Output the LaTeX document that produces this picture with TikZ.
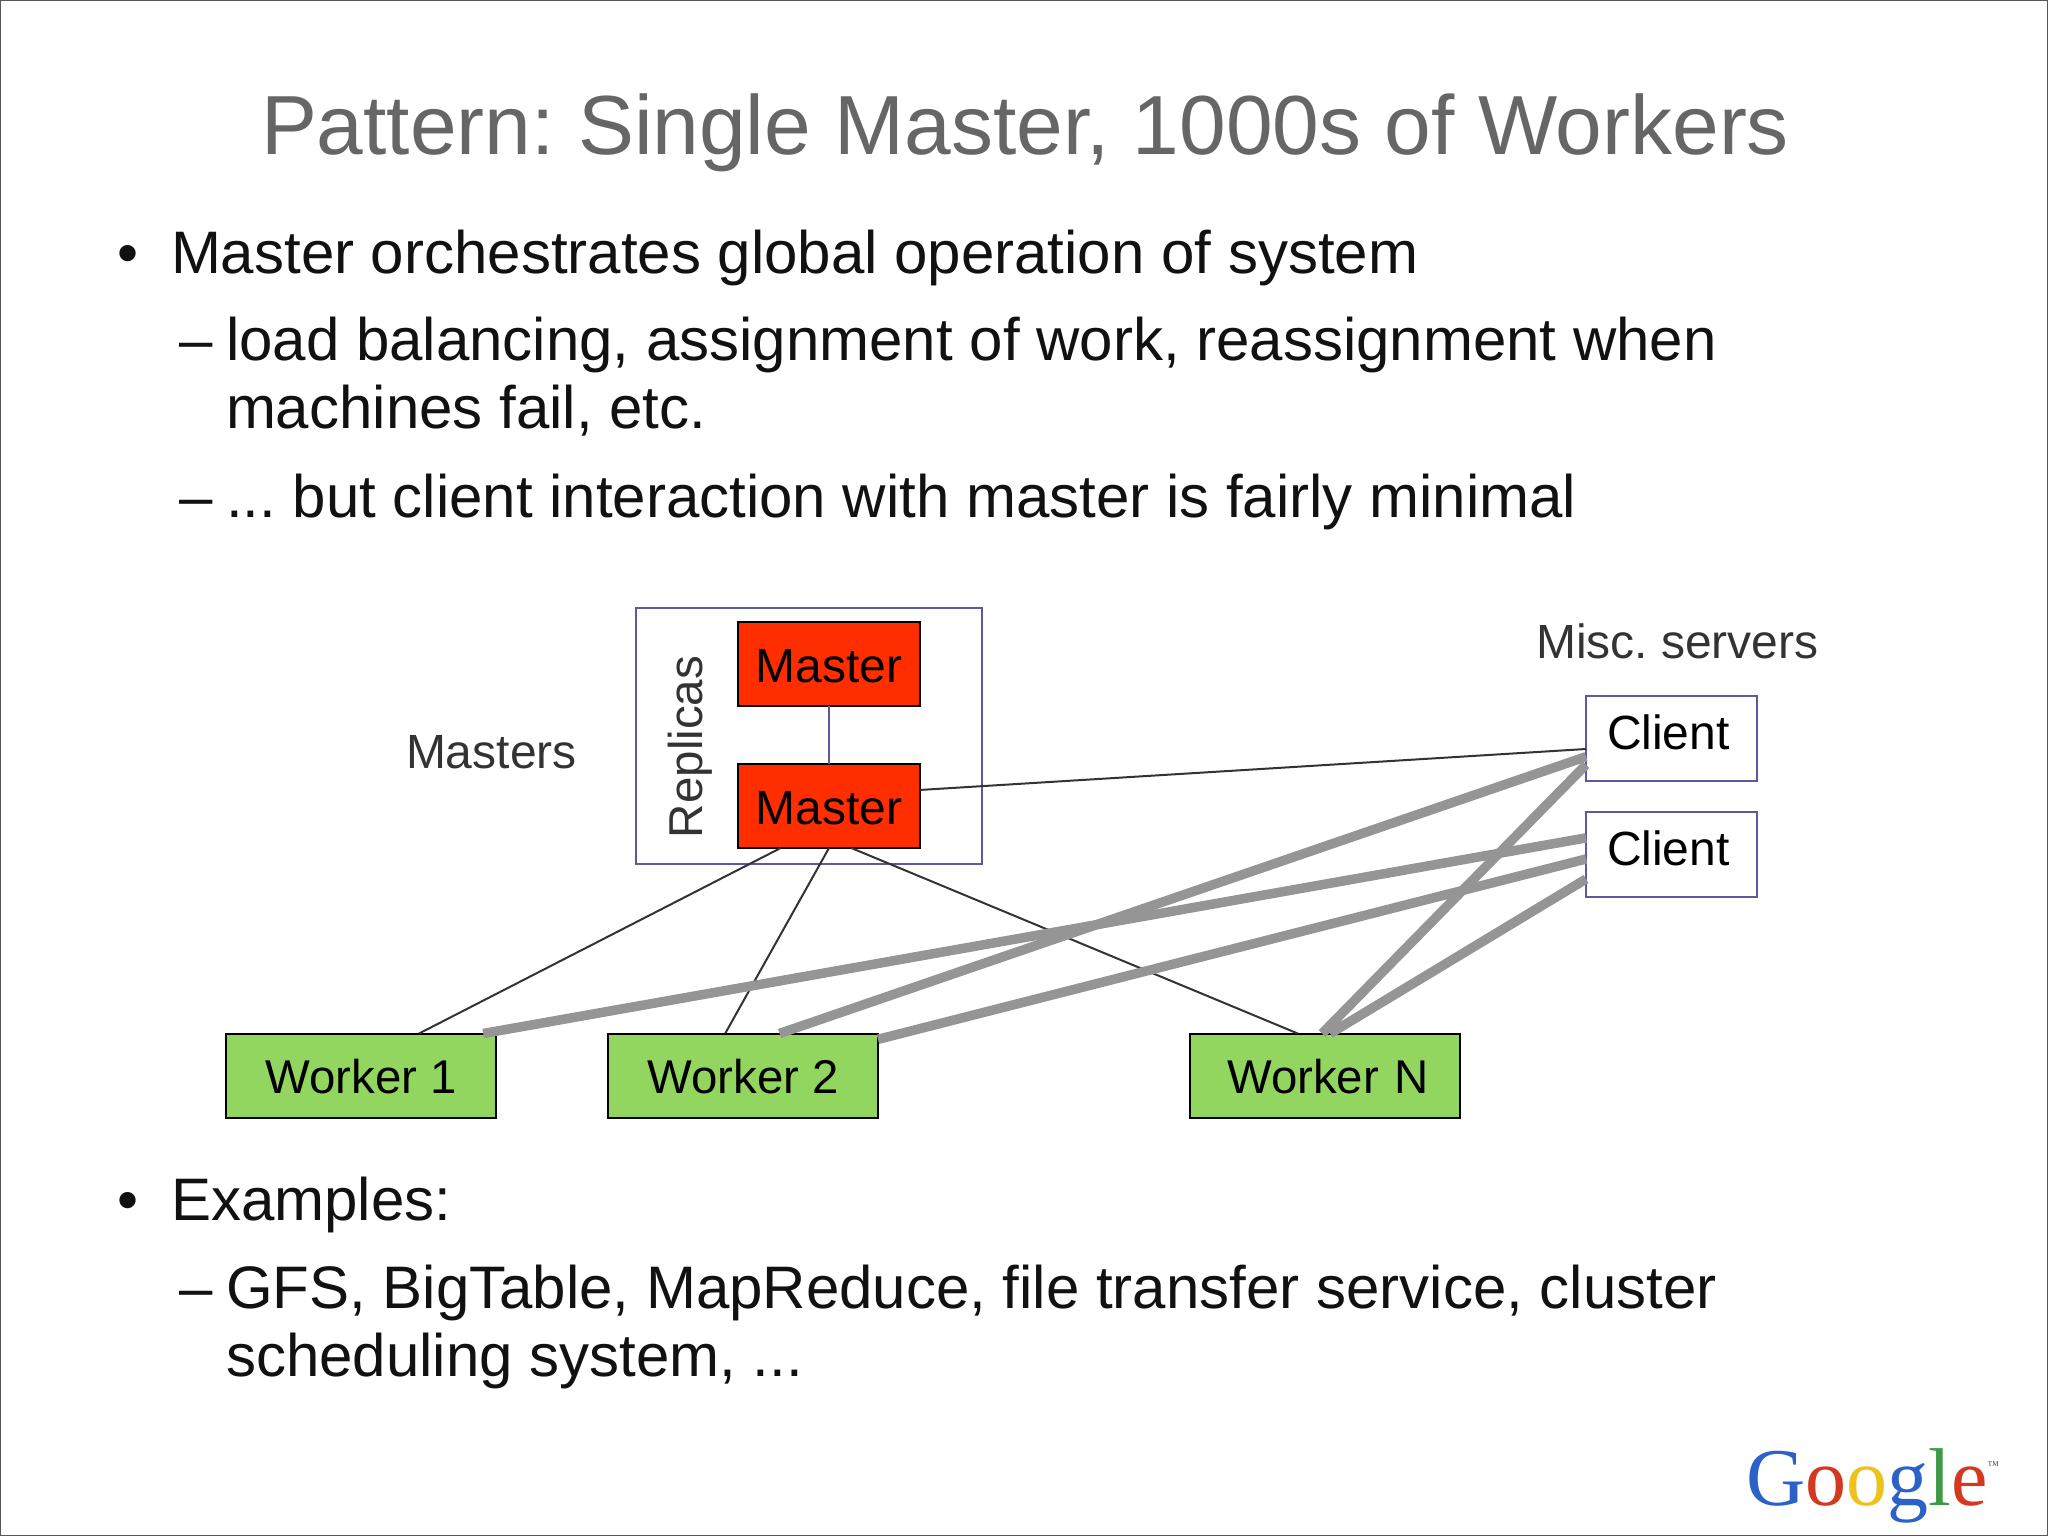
\documentclass[tikz,border=0pt]{standalone}
\usepackage{fontspec}
\setmainfont{Liberation Sans}
\newfontfamily\logofont{Liberation Serif}
\usepackage{tikz}
\usetikzlibrary{positioning}
\frenchspacing
\definecolor{framegray}{HTML}{555555}
\definecolor{titlegray}{HTML}{666666}
\definecolor{labelgray}{HTML}{333333}
\definecolor{bodyblack}{HTML}{111111}
\definecolor{linkgray}{HTML}{959595}
\definecolor{boxblue}{HTML}{5C5A9C}
\definecolor{masterred}{HTML}{FF2E00}
\definecolor{workergreen}{HTML}{92D660}
\definecolor{logoblue}{HTML}{2A62C8}
\definecolor{logored}{HTML}{D2391F}
\definecolor{logoyellow}{HTML}{EDC21B}
\definecolor{logogreen}{HTML}{3E9B45}
\tikzset{
    every node/.style={outer sep=0pt,inner sep=0pt},
    textline/.style={anchor=base west,text=bodyblack},
    titleline/.style={textline,text=titlegray,font=\fontsize{83.9}{84}\selectfont},
    topline/.style={textline,font=\fontsize{60}{60}\selectfont},
    subline/.style={textline,font=\fontsize{60}{60}\selectfont},
    sidelabel/.style={textline,text=labelgray,font=\fontsize{48}{48}\selectfont},
    box/.style={draw,line width=2pt,minimum height=84pt,font=\fontsize{48}{48}\selectfont},
    master/.style={box,fill=masterred,minimum width=182pt,text height=38pt},
    worker/.style={box,fill=workergreen,minimum width=270pt,text height=36pt,font=\fontsize{47.4}{48}\selectfont},
    client/.style={box,draw=boxblue,fill=white,minimum width=171pt,minimum height=85pt,
        text depth=13pt,text width=129pt,align=left},
    thinlink/.style={line width=2pt,draw=black!80},
    thicklink/.style={line width=9.5pt,draw=linkgray},
    bluelink/.style={line width=2pt,draw=boxblue}
}
\begin{document}
\begin{tikzpicture}[x=1pt,y=-1pt]
	\useasboundingbox (0,0) rectangle (2048,1536);
	\draw[framegray,line width=2pt] (0,0) rectangle (2048,1536);

	\node[titleline] at (261,154) (title) {Pattern: Single Master, 1000s of Workers};

	\node[topline] at (117,273) (b1) {•};
	\node[topline] at (171,273) (l1) {Master orchestrates global operation of system};
	\node[subline] at (179,360) (d1) {–};
	\node[subline] at (226,360) (l2) {load balancing, assignment of work, reassignment when};
	\node[subline] at (226,428) (l3) {machines fail, etc.};
	\node[subline] at (179,517) (d2) {–};
	\node[subline] at (226,517) (l4) {... but client interaction with master is fairly minimal};
	\node[topline] at (117,1220) (b2) {•};
	\node[topline] at (171,1220) (l5) {Examples:};
	\node[subline] at (179,1308) (d3) {–};
	\node[subline] at (226,1308) (l6) {GFS, BigTable, MapReduce, file transfer service, cluster};
	\node[subline] at (226,1376) (l7) {scheduling system, ...};

	\node[draw=boxblue,line width=2pt,minimum width=346pt,minimum height=256pt] at (809,736) (replicas) {};
	\node[sidelabel,font=\fontsize{47.5}{48}\selectfont,rotate=90] at (702,838) (replab) {Replicas};
	\node[sidelabel] at (406,768) (mlab) {Masters};
	\node[sidelabel] at (1536,658) (slab) {Misc. servers};

	\node[master] at (829,664) (m1) {Master};
	\node[master] at (829,806) (m2) {Master};
	\node[client] at (1671.5,738.5) (c1) {Client};
	\node[client] at (1671.5,854.5) (c2) {Client};
	\node[worker] at (361.25,1075.5) (w1) {Worker 1};
	\node[worker] at (743,1075.5) (w2) {Worker 2};
	\node[worker,text width=208pt,align=right] at (1325,1075.5) (wn) {Worker N};

	\draw
	(m1) edge[bluelink] (m2)
	(m2.-139.4) edge[thinlink] (w1.36.8)
	(m2.south) edge[thinlink] (w2.113)
	(m2.-62.4) edge[thinlink] (wn.123.4)
	(m2.10) edge[thinlink] (c1.187.7)
	(w1.19.2) edge[thicklink] (c2.169.1)
	(w2.49) edge[thicklink] (c1.192.2)
	(w2.15.5) edge[thicklink] (c2.183.7)
	(wn.94) edge[thicklink] (c1.197.2)
	(wn.83.3) edge[thicklink] (c2.196.6);

	\node[anchor=base west,font=\logofont\fontsize{82}{82}\selectfont] at (1746,1505) (logo)
	{\textcolor{logoblue}{G}\textcolor{logored}{o}\textcolor{logoyellow}{o}\textcolor{logoblue}{g}\textcolor{logogreen}{l}\textcolor{logored}{e}\raisebox{36pt}{\fontsize{12}{12}\selectfont\textcolor{framegray}{™}}};
\end{tikzpicture}
\end{document}
